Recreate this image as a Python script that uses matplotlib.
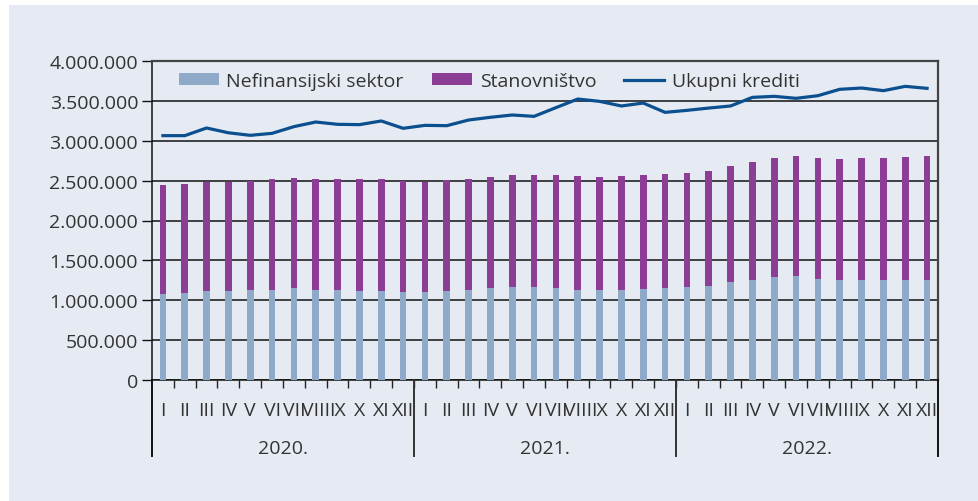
#!/usr/bin/env python
# -*- coding: utf-8 -*-

import numpy as np
import matplotlib
matplotlib.use('Agg')
import matplotlib.pyplot as plt
from matplotlib.patches import Rectangle
from matplotlib.ticker import FuncFormatter, FixedLocator

# Data

years = ['2020.', '2021.', '2022.']
months = ['I', 'II', 'III', 'IV', 'V', 'VI', 'VII', 'VIII', 'IX', 'X', 'XI', 'XII']

nefinansijski = [
    1074000, 1095000, 1112000, 1112000, 1124000, 1128000, 1149000, 1128000, 1124000, 1116000, 1120000, 1103000,
    1099000, 1116000, 1133000, 1149000, 1162000, 1162000, 1154000, 1133000, 1124000, 1124000, 1137000, 1149000,
    1162000, 1179000, 1225000, 1254000, 1292000, 1300000, 1266000, 1254000, 1250000, 1254000, 1250000, 1258000,
]
ukupno_bar = [
    2441000, 2462000, 2483000, 2483000, 2495000, 2516000, 2537000, 2516000, 2516000, 2516000, 2520000, 2500000,
    2487000, 2512000, 2525000, 2541000, 2566000, 2575000, 2575000, 2554000, 2550000, 2554000, 2566000, 2583000,
    2591000, 2621000, 2688000, 2729000, 2788000, 2805000, 2780000, 2771000, 2780000, 2788000, 2796000, 2813000,
]
stanovnistvo = [t - n for t, n in zip(ukupno_bar, nefinansijski)]
ukupni_krediti = [
    3064000, 3064000, 3160000, 3100000, 3068000, 3093000, 3177000, 3235000, 3206000, 3202000, 3248000, 3156000,
    3193000, 3189000, 3260000, 3294000, 3323000, 3306000, 3415000, 3523000, 3494000, 3436000, 3473000, 3356000,
    3381000, 3410000, 3436000, 3544000, 3557000, 3532000, 3565000, 3645000, 3661000, 3628000, 3682000, 3657000,
]

# Styling

panel_color = '#e6ebf3'
blue_bar = '#8eaac8'
purple_bar = '#8c3d95'
line_color = '#0b4f8f'
text_color = '#333333'

plt.rcParams['font.family'] = ['Open Sans', 'DejaVu Sans']
plt.rcParams['font.size'] = 14
plt.rcParams['text.color'] = text_color

W, H = 979, 502
fig = plt.figure(figsize=(W / 100, H / 100), dpi=100, facecolor='white')
fig.patches.append(Rectangle((9 / W, 0), 1 - 9 / W, 1 - 6 / H, transform=fig.transFigure,
                             facecolor=panel_color, edgecolor='none', zorder=-10))

left, right, bottom, top = 152, 938, 381, 62
ax = fig.add_axes([left / W, (H - bottom) / H, (right - left) / W, (bottom - top) / H])
ax.set_facecolor(panel_color)

x = np.arange(len(nefinansijski))
bw = 0.31
b1 = ax.bar(x, nefinansijski, width=bw, color=blue_bar, zorder=3)
b2 = ax.bar(x, stanovnistvo, width=bw, bottom=nefinansijski, color=purple_bar, zorder=3)
l1, = ax.plot(x, ukupni_krediti, color=line_color, linewidth=2.3, zorder=4)

ax.set_xlim(-0.5, len(x) - 0.5)
ax.set_ylim(0, 4000000)
ax.set_yticks(np.arange(0, 4000001, 500000))
ax.yaxis.set_major_formatter(FuncFormatter(lambda v, p: '{:,.0f}'.format(v).replace(',', '.')))
ax.grid(axis='y', color='#111111', linewidth=1.1, zorder=1)
ax.tick_params(axis='y', length=7, width=1, color='#111111', labelcolor=text_color, pad=3)

# month labels and minor ticks between bars
ax.set_xticks(x)
ax.set_xticklabels(months * len(years))
ax.tick_params(axis='x', which='major', length=0, pad=15, labelcolor=text_color)
ax.xaxis.set_minor_locator(FixedLocator(np.arange(0.5, len(x) - 1, 1.0)))
ax.tick_params(axis='x', which='minor', length=6, width=1, color='#222222', direction='out')

for s in ['left', 'bottom']:
    ax.spines[s].set_color('#111111')
    ax.spines[s].set_linewidth(1.1)
for s in ['right', 'top']:
    ax.spines[s].set_color('#444444')
    ax.spines[s].set_linewidth(1.6)

# year separators and year labels below the axis
sep_depth = -(457 - bottom) / (bottom - top)
trans = ax.get_xaxis_transform()
for k in range(len(years) + 1):
    xs = k * 12 - 0.5
    ax.plot([xs, xs], [0, sep_depth], transform=trans, color='#333333' if 0 < k < 3 else '#111111',
            linewidth=1.4, clip_on=False, zorder=5)
for k, yr in enumerate(years):
    ax.text(k * 12 + 5.5, -(449 - bottom) / (bottom - top), yr, transform=trans,
            ha='center', va='center', color=text_color)

ax.legend([b1, b2, l1], ['Nefinansijski sektor', 'Stanovništvo', 'Ukupni krediti'],
          loc='center left', bbox_to_anchor=(0.034, 0.937), ncol=3, frameon=False,
          borderpad=0, borderaxespad=0, handlelength=2.05, handleheight=0.57,
          handletextpad=0.4, columnspacing=1.45, fontsize=14)

fig.savefig('out.png', dpi=100, facecolor=fig.get_facecolor())
